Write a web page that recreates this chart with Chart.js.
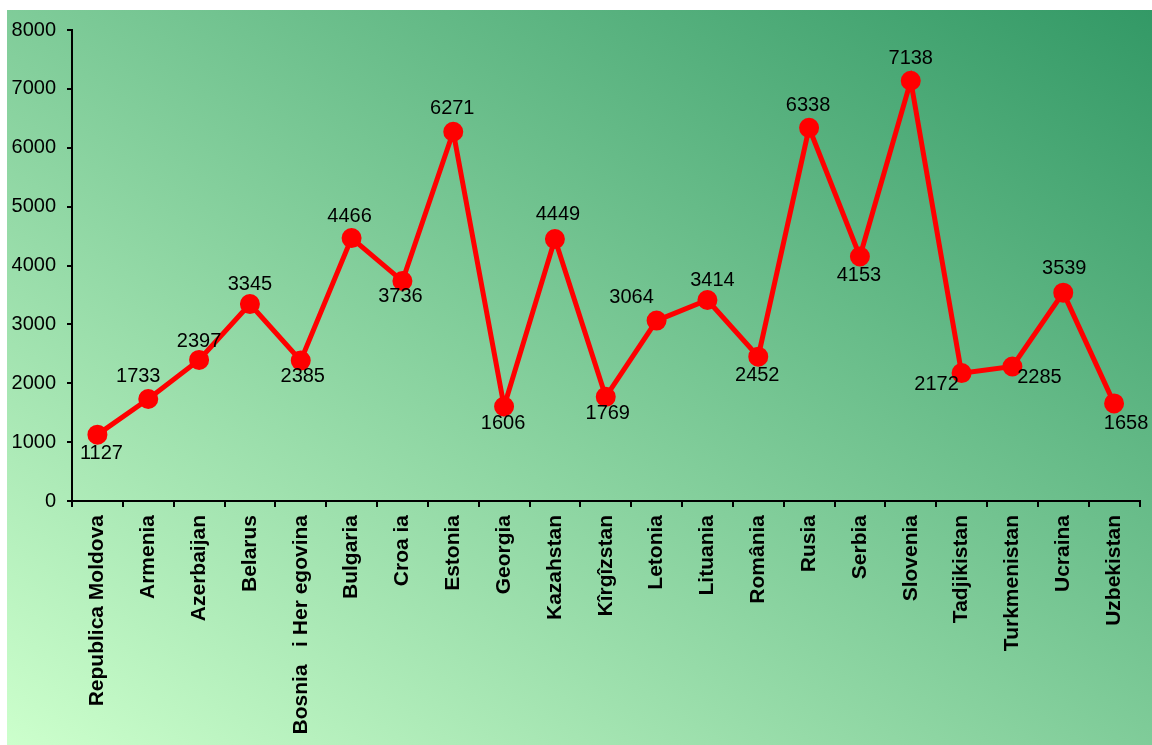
<!DOCTYPE html>
<html>
<head>
<meta charset="utf-8">
<script src="https://cdn.jsdelivr.net/npm/chart.js@4"></script>
<style>
  html, body { margin: 0; padding: 0; background: #fff; }
  #wrap { width: 1152px; height: 745px; }
</style>
</head>
<body>
<div id="wrap"><canvas id="c" width="1152" height="745"></canvas></div>
<script>
// データ
const countries = ['Republica Moldova', 'Armenia', 'Azerbaijan', 'Belarus', 'Bosnia   i Her egovina', 'Bulgaria', 'Croa ia', 'Estonia', 'Georgia', 'Kazahstan', 'Kîrgîzstan', 'Letonia', 'Lituania', 'România', 'Rusia', 'Serbia', 'Slovenia', 'Tadjikistan', 'Turkmenistan', 'Ucraina', 'Uzbekistan'];
const values = [1127, 1733, 2397, 3345, 2385, 4466, 3736, 6271, 1606, 4449, 1769, 3064, 3414, 2452, 6338, 4153, 7138, 2172, 2285, 3539, 1658];
const yTicks = [0, 1000, 2000, 3000, 4000, 5000, 6000, 7000, 8000];

// ラベル位置 (点からのずれ)
const labelOffsets = [
  [4, 19], [-10, -22], [0, -18], [0, -20], [2, 16], [-2, -22], [-2, 15],
  [-1, -23], [-1, 17], [3, -25], [2, 17], [-25, -23], [5, -20], [-1, 19],
  [-1, -22], [-1, 19], [0, -22], [-25, 11], [27, 11], [1, -24], [12, 20]
];

const FONT = '"Liberation Sans", Arial, sans-serif';

// 背景グラデーション (左下→右上)
const bgPlugin = {
  id: 'bg',
  beforeDraw(chart) {
    const ctx = chart.ctx;
    ctx.save();
    ctx.translate(7, 10);
    ctx.scale(1145, 735);
    const g = ctx.createLinearGradient(0, 1, 1, 0);
    g.addColorStop(0, '#ccffcc');
    g.addColorStop(1, '#339966');
    ctx.fillStyle = g;
    ctx.fillRect(0, 0, 1, 1);
    ctx.restore();
  }
};

const labelPlugin = {
  id: 'valueLabels',
  afterDatasetsDraw(chart) {
    const ctx = chart.ctx;
    const meta = chart.getDatasetMeta(0);
    ctx.save();
    ctx.font = '20px ' + FONT;
    ctx.fillStyle = '#000';
    ctx.textAlign = 'center';
    ctx.textBaseline = 'middle';
    meta.data.forEach((pt, i) => {
      const off = labelOffsets[i] || [0, -20];
      ctx.fillText(String(values[i]), pt.x + off[0], pt.y + off[1]);
    });
    ctx.restore();
  }
};

new Chart(document.getElementById('c'), {
  type: 'line',
  data: {
    labels: countries,
    datasets: [{
      data: values,
      borderColor: '#ff0000',
      backgroundColor: '#ff0000',
      borderWidth: 5,
      pointRadius: 7.5,
      pointHoverRadius: 7.5,
      pointBackgroundColor: '#ff0000',
      pointBorderColor: '#ff0000',
      tension: 0
    }]
  },
  options: {
    responsive: false,
    animation: false,
    layout: { padding: { top: 30, right: 10, left: 0, bottom: 0 } },
    plugins: {
      legend: { display: false },
      tooltip: { enabled: false }
    },
    scales: {
      x: {
        offset: true,
        grid: { display: true, offset: true, drawOnChartArea: false, tickLength: 6, color: '#000', lineWidth: 2 },
        border: { color: '#000', width: 2 },
        ticks: {
          autoSkip: false,
          minRotation: 90,
          maxRotation: 90,
          padding: 8,
          color: '#000',
          font: { family: FONT, size: 21, weight: 'bold' }
        },
        afterFit(scale) { scale.height = 244; }
      },
      y: {
        min: 0,
        max: 8000,
        afterBuildTicks(scale) { scale.ticks = yTicks.map(v => ({ value: v })); },
        grid: { display: true, drawOnChartArea: false, tickLength: 5, color: '#000', lineWidth: 2 },
        border: { color: '#000', width: 2 },
        ticks: {
          padding: 11,
          color: '#000',
          font: { family: FONT, size: 20 },
          callback: v => String(v)
        },
        afterFit(scale) { scale.width = 72; }
      }
    }
  },
  plugins: [bgPlugin, labelPlugin]
});
</script>
</body>
</html>
